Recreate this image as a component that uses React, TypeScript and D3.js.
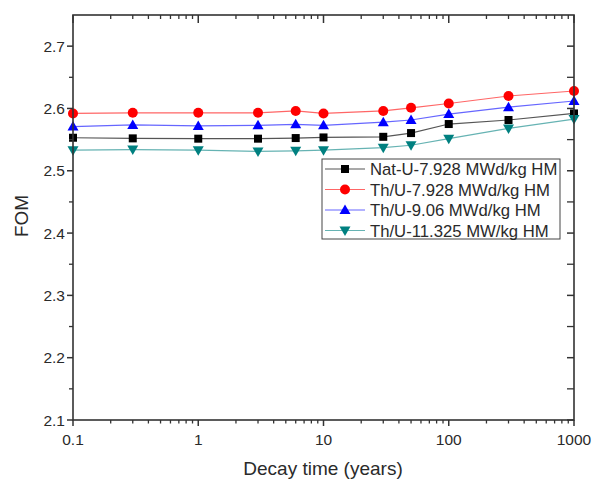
import React from "react";
import * as d3 from "d3";

const decayTimes = [0.1, 0.3, 1, 3, 6, 10, 30, 50, 100, 300, 1000];
const natU7928 = [2.553, 2.552, 2.5515, 2.5515, 2.5525, 2.5535, 2.5545, 2.5605, 2.575, 2.5815, 2.592];
const thU7928 = [2.592, 2.593, 2.593, 2.593, 2.596, 2.592, 2.596, 2.601, 2.608, 2.62, 2.628];
const thU906 = [2.571, 2.5735, 2.572, 2.573, 2.5745, 2.573, 2.578, 2.5815, 2.591, 2.602, 2.612];
const thU11325 = [2.533, 2.534, 2.533, 2.531, 2.532, 2.533, 2.537, 2.541, 2.5515, 2.568, 2.583];
const seriesNames = [
  "Nat-U-7.928 MWd/kg HM",
  "Th/U-7.928 MWd/kg HM",
  "Th/U-9.06 MWd/kg HM",
  "Th/U-11.325 MW/kg HM",
];
const xTickLabels = ["0.1", "1", "10", "100", "1000"];
const yTickLabels = ["2.1", "2.2", "2.3", "2.4", "2.5", "2.6", "2.7"];

const series = [
  { name: seriesNames[0], values: natU7928, color: "#000000", line: "#555555", shape: "square" },
  { name: seriesNames[1], values: thU7928, color: "#ff0000", line: "#ff6666", shape: "circle" },
  { name: seriesNames[2], values: thU906, color: "#0000ff", line: "#6666ff", shape: "up" },
  { name: seriesNames[3], values: thU11325, color: "#008080", line: "#66b3b3", shape: "down" },
];

const L = 73, R = 574, T = 15, B = 420;
const x = d3.scaleLog().domain([0.1, 1000]).range([L, R]);
const y = d3.scaleLinear().domain([2.1, 2.75]).range([B, T]);

function Marker({ shape, cx, cy, color }: { shape: string; cx: number; cy: number; color: string }) {
  if (shape === "square") return <rect x={cx - 4} y={cy - 4} width={8} height={8} fill={color} />;
  if (shape === "circle") return <circle cx={cx} cy={cy} r={5} fill={color} />;
  if (shape === "up")
    return <path d={`M${cx},${cy - 5.5} L${cx + 5.5},${cy + 4} L${cx - 5.5},${cy + 4} Z`} fill={color} />;
  return <path d={`M${cx},${cy + 5.5} L${cx + 5.5},${cy - 4} L${cx - 5.5},${cy - 4} Z`} fill={color} />;
}

export default function App() {
  const minorX: number[] = [];
  for (let e = -1; e < 3; e++) for (let m = 2; m <= 9; m++) minorX.push(m * Math.pow(10, e));
  const majorX = xTickLabels.map(Number);
  const majorY = yTickLabels.map(Number);
  const minorY = d3.range(0, 13).map((i) => 2.15 + i * 0.1).filter((v) => v < 2.75);
  const font = "Liberation Sans, Arial, sans-serif";
  const txt = "#2a2a2a";
  const line = d3.line<number>().x((_, i) => x(decayTimes[i])).y((v) => y(v));
  const lgX = 322, lgY = 159, lgW = 238, lgH = 80, rowH = 20.5;
  return (
    <svg width={600} height={480} style={{ position: "absolute", left: 0, top: 0, background: "#fff" }}>
      <rect width={600} height={480} fill="#fff" />
      {series.map((s) => (
        <g key={s.name}>
          <path d={line(s.values) || ""} fill="none" stroke={s.line} strokeWidth={1.2} />
          {s.values.map((v, i) => (
            <Marker key={i} shape={s.shape} cx={x(decayTimes[i])} cy={y(v)} color={s.color} />
          ))}
        </g>
      ))}
      <rect x={L} y={T} width={R - L} height={B - T} fill="none" stroke="#333" strokeWidth={1.6} />
      {majorX.map((v, i) => (
        <g key={"bx" + v}>
          <line x1={x(v)} x2={x(v)} y1={B} y2={B + 6} stroke="#333" strokeWidth={1.5} />
          <line x1={x(v)} x2={x(v)} y1={T} y2={T + 8} stroke="#333" strokeWidth={1.5} />
          <text x={x(v)} y={445} textAnchor="middle" fontFamily={font} fontSize={15.5} fill={txt}>
            {xTickLabels[i]}
          </text>
        </g>
      ))}
      {minorX.map((v) => (
        <g key={"mx" + v}>
          <line x1={x(v)} x2={x(v)} y1={B} y2={B + 3.5} stroke="#333" strokeWidth={1.3} />
          <line x1={x(v)} x2={x(v)} y1={T} y2={T + 4} stroke="#333" strokeWidth={1.3} />
        </g>
      ))}
      {majorY.map((v, i) => (
        <g key={"my" + v}>
          <line x1={L - 6} x2={L} y1={y(v)} y2={y(v)} stroke="#333" strokeWidth={1.5} />
          <line x1={R - 7} x2={R} y1={y(v)} y2={y(v)} stroke="#333" strokeWidth={1.5} />
          <text x={L - 8} y={y(v) + 5.5} textAnchor="end" fontFamily={font} fontSize={15.5} fill={txt}>
            {yTickLabels[i]}
          </text>
        </g>
      ))}
      {minorY.map((v) => (
        <g key={"ny" + v}>
          <line x1={L - 4} x2={L} y1={y(v)} y2={y(v)} stroke="#333" strokeWidth={1.3} />
          <line x1={R - 7} x2={R} y1={y(v)} y2={y(v)} stroke="#333" strokeWidth={1.3} />
        </g>
      ))}
      <text x={323} y={475} textAnchor="middle" fontFamily={font} fontSize={19} fill={txt}>
        Decay time (years)
      </text>
      <text
        transform={`translate(28,216) rotate(-90)`}
        textAnchor="middle"
        fontFamily={font}
        fontSize={19}
        fill={txt}
      >
        FOM
      </text>
      <rect x={lgX} y={lgY} width={lgW} height={lgH} fill="#fff" stroke="#444" strokeWidth={1} />
      {series.map((s, i) => {
        const cy = lgY + 10 + i * rowH;
        return (
          <g key={"lg" + i}>
            <line x1={lgX + 3} x2={lgX + 43} y1={cy} y2={cy} stroke={s.line} strokeWidth={1.2} />
            <Marker shape={s.shape} cx={lgX + 23} cy={cy} color={s.color} />
            <text x={lgX + 48} y={cy + 6} fontFamily={font} fontSize={16.7} fill={txt}>
              {s.name}
            </text>
          </g>
        );
      })}
    </svg>
  );
}
